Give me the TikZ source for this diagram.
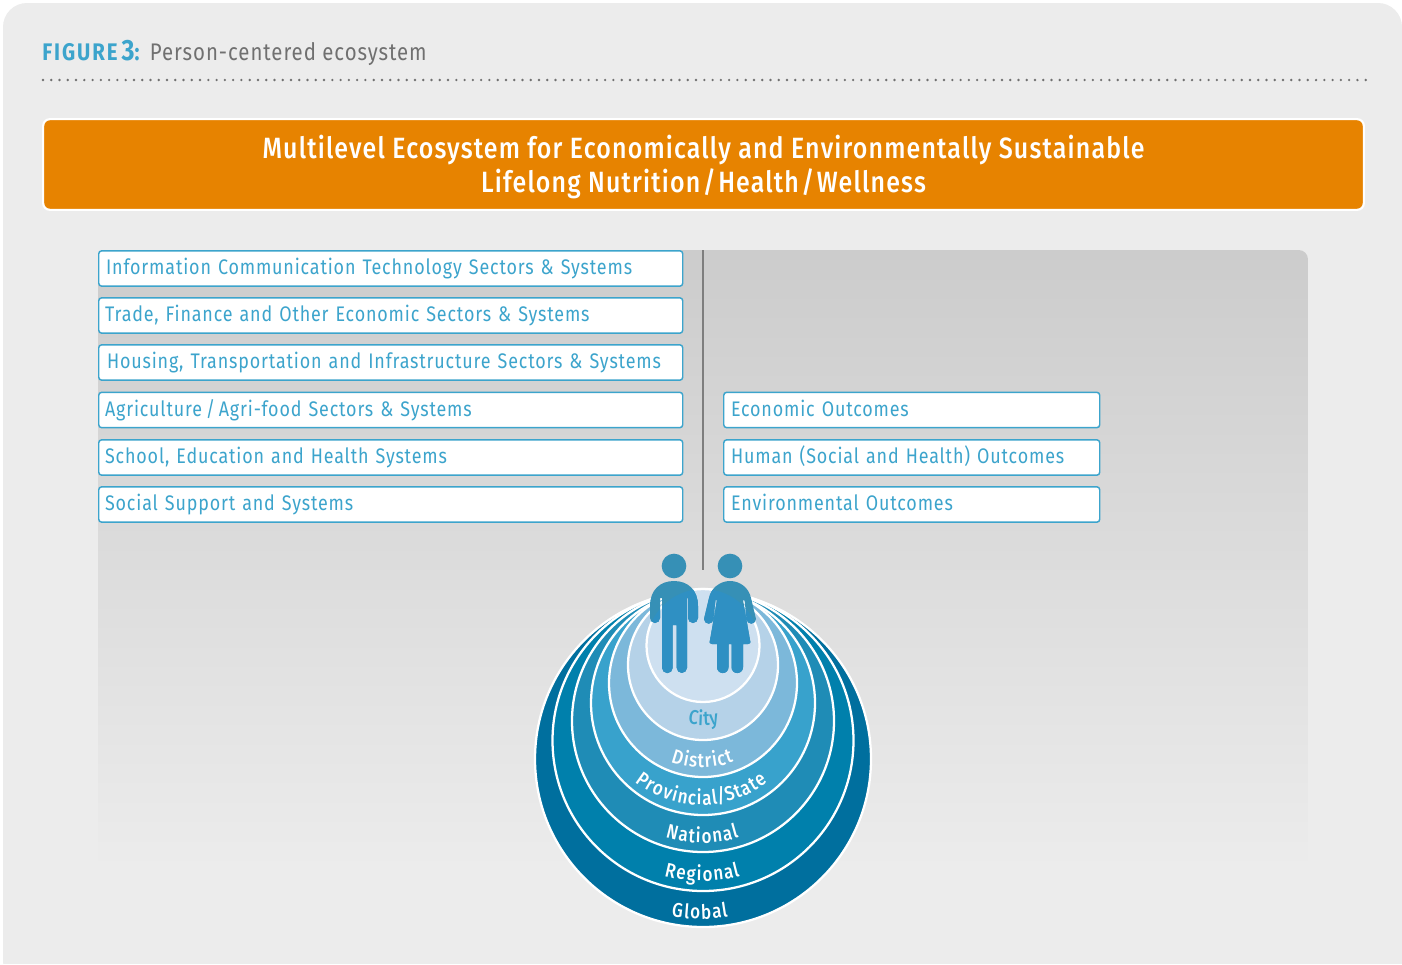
\documentclass[tikz,border=0pt]{standalone}
\usepackage{fontspec}
\setmainfont{Fira Sans}[FakeStretch=0.85,LetterSpace=4,BoldFont={Fira Sans Medium}]
\newfontfamily\arcfont{Fira Sans}[FakeStretch=0.85,BoldFont={Fira Sans Medium}]
\newfontfamily\figfont{Fira Sans}[FakeStretch=0.85,LetterSpace=8]
\newcommand\arcf{\arcfont\fontsize{15}{16}\bfseries\selectfont}
\newcommand\slashch{/}
% id, colour, cx, cy, r, letter/width-in-px list
\newcommand\arclabel[6]{%
 \gdef\cumt{0}%
 \foreach \lt/\wt in {#6}{\pgfmathsetmacro\tmpa{\cumt+\wt}\xdef\cumt{\tmpa}}%
 \pgfmathsetmacro\tmpb{-0.5*\cumt}\xdef\post{\tmpb}%
 \foreach \lt/\wt [count=\n] in {#6}{%
  \pgfmathsetmacro\ang{(\post+0.5*\wt)/#5*180/pi}%
  \node[text=#2,font=\arcf,inner sep=0pt,anchor=base,rotate=\ang] (#1-\n) at ({#3+#5*sin(\ang)},{#4+#5*cos(\ang)}) {\lt};
  \pgfmathsetmacro\tmpc{\post+\wt}\xdef\post{\tmpc}%
 }}
\newcommand\manshape{(650,606) .. controls (650,590) and (660,581) .. (674,581) .. controls (688,581) and (698,590) .. (698,606)
  -- (698,618) arc (0:180:5) -- (688,598) -- (687,598) -- (687,667.8) arc (0:180:5.15) -- (676.7,625) -- (672.7,625) -- (672.7,667.8) arc (0:180:5.35) -- (662,598) -- (660,598) -- (660,618) arc (0:180:5) -- cycle}
\newcommand\womanshape{(704,619) -- (709,598) .. controls (711,588) and (720,581) .. (730,581) .. controls (740,581) and (749,588) .. (751,598)
  -- (756,619) arc (0:180:4.7) -- (744.5,600) -- (743,600) -- (750,640) .. controls (751,643) and (750,644) .. (748,644) -- (743,644) -- (743,667.3) arc (0:180:5.75) -- (731.5,644) -- (728.5,644) -- (728.5,667.3) arc (0:180:5.75) -- (717,644) -- (712,644) .. controls (710,644) and (709,643) .. (710,640) -- (717,600) -- (715.5,600) -- (713.4,619) arc (0:180:4.7) -- cycle}
\definecolor{panel}{HTML}{ECECEC}
\definecolor{ink}{HTML}{3CA4CC}
\definecolor{orangeb}{HTML}{E78300}
\definecolor{greyt}{HTML}{707070}
\definecolor{gtop}{HTML}{CCCCCC}
\definecolor{rA}{HTML}{006F9E}
\definecolor{rB}{HTML}{0080AC}
\definecolor{rC}{HTML}{1F8CB6}
\definecolor{rD}{HTML}{38A2CC}
\definecolor{rE}{HTML}{7CB8DA}
\definecolor{rF}{HTML}{B5D2E8}
\definecolor{rG}{HTML}{CEE0F0}
\definecolor{person}{HTML}{3690B6}
\definecolor{personin}{HTML}{2F90C3}
\tikzset{
 lbox/.style={draw=ink,line width=1.1pt,fill=white,rounded corners=2.2pt,minimum height=26.5pt,inner xsep=5.5pt,inner ysep=0pt,text=ink,anchor=west,font=\fontsize{15.8}{18}\selectfont,align=left,text height=12pt,text depth=3pt},
 leftbox/.style={lbox,minimum width=438pt,text width=427pt},
 rightbox/.style={lbox,minimum width=282pt,text width=271pt},
 ring/.style={draw=white,line width=1.7pt},
 headdot/.style={circle,fill=person,minimum size=18.5pt,inner sep=0pt}
}
\begin{document}
\begin{tikzpicture}[x=0.75pt,y=-0.75pt]
\useasboundingbox (0,0) rectangle (1402,964);
\fill[white] (0,0) rectangle (1402,964);
\fill[panel,rounded corners=18pt] (3,3) rectangle (1402,985);
\fill[white] (0,964) rectangle (1402,985);
% header
\node[anchor=base west,inner sep=0pt,font=\fontsize{18}{20}\selectfont,text=greyt] (title) at (42,60)
  {\textcolor{ink}{\figfont\fontsize{18}{20}\bfseries\selectfont FIGURE\,{\fontsize{22}{20}\selectfont 3}:}\hspace{1.5pt} Person-centered ecosystem};
\coordinate (d1) at (43,80); \coordinate (d2) at (1366,80);
\draw[greyt,line width=2pt,line cap=round,dash pattern=on 0pt off 6.2pt] (d1) -- (d2);
% banner
\node[draw=white,line width=1.6pt,fill=orangeb,rounded corners=5pt,minimum width=990.5pt,minimum height=68pt,
  text=white,align=center,font=\fontsize{22}{25.5}\bfseries\selectfont,inner sep=0pt] (banner) at (703.5,164.5)
  {\rule{0pt}{21pt}Multilevel Ecosystem for Economically and Environmentally Sustainable\\Lifelong Nutrition\kern1.9pt/\kern1.9pt Health\kern1.9pt/\kern1.9pt Wellness};
% gradient
\begin{scope}
\clip[rounded corners=7pt] (98,250) rectangle (1308,1000);
\shade[top color=gtop,bottom color=panel] (98,250) rectangle (1308,870);
\end{scope}
\coordinate (vt) at (703,250); \coordinate (vb) at (703,570);
\draw[greyt!90,line width=2.2pt] (vt) -- (vb);
% left boxes
\node[leftbox] (b1) at (98,268.5) {Information Communication Technology Sectors \& Systems};
\node[leftbox] (b2) at (98,315.5) {\hspace*{-.75pt}Trade, Finance and Other Economic Sectors \& Systems};
\node[leftbox] (b3) at (98,362.5) {\hspace*{.75pt}Housing, Transportation and Infrastructure Sectors \& Systems};
\node[leftbox] (b4) at (98,410) {\hspace*{-.75pt}Agriculture\kern2.8pt/\kern2.8pt Agri-food Sectors \& Systems};
\node[leftbox] (b5) at (98,457.5) {\hspace*{-.75pt}School, Education and Health Systems};
\node[leftbox] (b6) at (98,504.5) {\hspace*{-.75pt}Social Support and Systems};
% right boxes
\node[rightbox] (r1) at (723,410) {Economic Outcomes};
\node[rightbox] (r2) at (723,457.5) {Human (Social and Health) Outcomes};
\node[rightbox] (r3) at (723,504.5) {Environmental Outcomes};
% rings
\draw[ring,fill=rA] (703,759) circle (168);
\draw[ring,fill=rB] (703,740.5) circle (150.5);
\draw[ring,fill=rC] (703,721) circle (131);
\draw[ring,fill=rD] (703,703) circle (112);
\draw[ring,fill=rE] (703,683) circle (94);
\draw[ring,fill=rF] (703,665) circle (75);
\draw[ring,fill=rG] (703,645.5) circle (56.5);
% ring labels
\arclabel{gl}{white}{699.5}{754}{165}{G/13,l/6,o/11.5,b/11.5,a/10.5,l/6}
\arclabel{re}{white}{702}{733}{148}{R/12,e/10.5,g/10.5,i/6,o/11.5,n/11,a/10.5,l/6}
\arclabel{na}{white}{702}{715}{128}{N/13,a/10.5,t/7.5,i/6,o/11.5,n/11,a/10.5,l/6}
\arclabel{pr}{white}{701}{697}{108}{P/11.5,r/8,o/11.5,v/10,i/6,n/11,c/9,i/6,a/10.5,l/6,\slashch/8,S/10.5,t/7.5,a/10.5,t/7.5,e/10.5}
\arclabel{di}{white}{702}{677.5}{90}{D/13,i/6,s/9,t/7.5,r/8,i/6,c/9,t/7.5}
\arclabel{ci}{ink}{703.5}{653.5}{72}{C/10.5,i/5.5,t/7,y/9.5}
% people
\node[headdot] (hm) at (674,566) {};
\node[headdot] (hw) at (730,566) {};
\fill[person] \manshape;
\fill[person] \womanshape;
\begin{scope}
\clip (703,645.5) circle (56.5);
\fill[personin] \manshape;
\fill[personin] \womanshape;
\end{scope}
\end{tikzpicture}
\end{document}
